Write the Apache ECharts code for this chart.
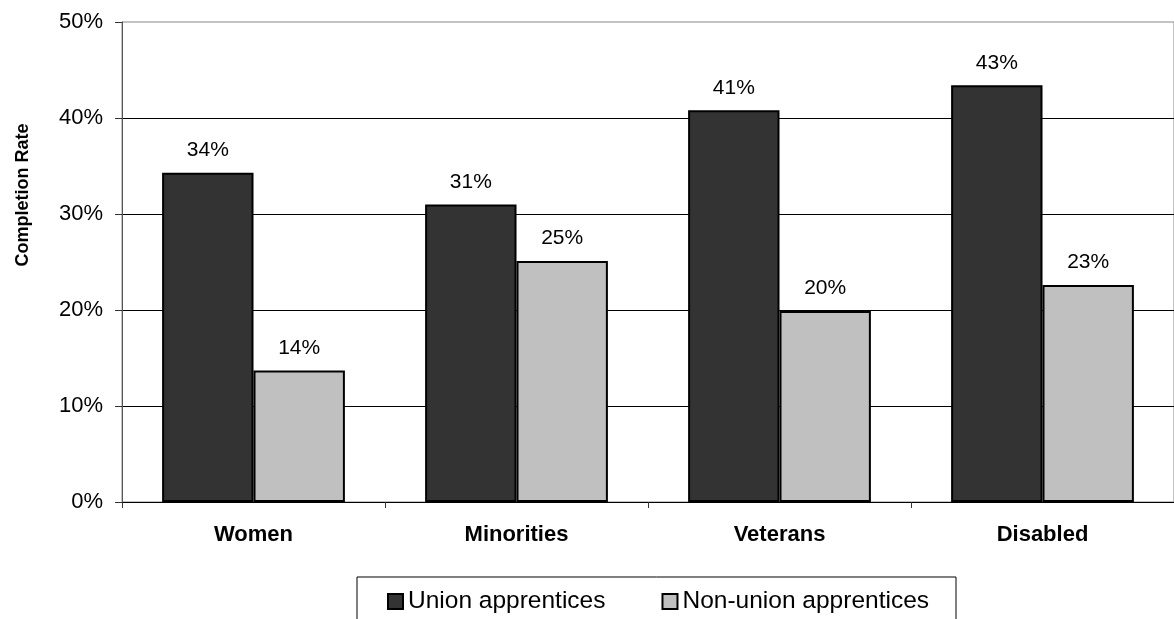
<!DOCTYPE html>
<html>
<head>
<meta charset="utf-8">
<script src="https://cdn.jsdelivr.net/npm/echarts@6/dist/echarts.min.js"></script>
<style>
html,body{margin:0;padding:0;background:#fff;}
#chart{width:1174px;height:619px;}
</style>
</head>
<body>
<div id="chart"></div>
<script>
var categories = ['Women', 'Minorities', 'Veterans', 'Disabled'];
var seriesNames = ['Union apprentices', 'Non-union apprentices'];
var unionValues = [34.3, 31.0, 40.8, 43.4];
var nonUnionValues = [13.7, 25.1, 19.9, 22.6];
var yTicks = [0, 10, 20, 30, 40, 50];
var yAxisTitle = 'Completion Rate';

var FONT = 'Liberation Sans, Arial, sans-serif';
var chart = echarts.init(document.getElementById('chart'), null, {renderer: 'canvas'});

function barSeries(name, data, color) {
  return {
    name: name,
    type: 'bar',
    data: data,
    barGap: '0%',
    barCategoryGap: '30.5%',
    itemStyle: {color: color, borderColor: '#000', borderWidth: 2},
    label: {
      show: true,
      position: 'top',
      distance: 12,
      color: '#000',
      fontFamily: FONT,
      fontSize: 21,
      formatter: function (p) { return Math.round(p.value) + '%'; }
    },
    emphasis: {disabled: true}
  };
}

chart.setOption({
  animation: false,
  backgroundColor: '#fff',
  grid: {
    left: 122, top: 22, bottom: 117, width: 1060,
    show: true, borderColor: '#888', borderWidth: 1, backgroundColor: 'transparent'
  },
  legend: {
    data: seriesNames,
    left: 357,
    top: 577,
    padding: [12, 27, 40, 30],
    itemGap: 56,
    itemWidth: 15,
    itemHeight: 15,
    icon: 'rect',
    borderColor: '#000',
    borderWidth: 1,
    textStyle: {fontFamily: FONT, fontSize: 24.5, color: '#000'}
  },
  graphic: [{
    type: 'text',
    x: 23, y: 195,
    rotation: Math.PI / 2,
    style: {
      text: yAxisTitle,
      font: 'bold 18px ' + FONT,
      fill: '#000',
      textAlign: 'center',
      textVerticalAlign: 'middle'
    }
  }],
  xAxis: {
    type: 'category',
    data: categories,
    axisLine: {lineStyle: {color: '#000', width: 1}},
    axisTick: {show: true, length: 6, lineStyle: {color: '#333'}},
    axisLabel: {fontFamily: FONT, fontSize: 22, fontWeight: 'bold', color: '#000', margin: 22}
  },
  yAxis: {
    type: 'value',
    min: yTicks[0],
    max: yTicks[yTicks.length - 1],
    interval: 10,
    axisLine: {show: true, lineStyle: {color: '#555', width: 1}},
    axisTick: {show: true, length: 7, lineStyle: {color: '#333'}},
    axisLabel: {fontFamily: FONT, fontSize: 22, color: '#000', margin: 19, formatter: '{value}%'},
    splitLine: {show: true, showMaxLine: false, lineStyle: {color: '#000', width: 1}}
  },
  series: [
    barSeries(seriesNames[0], unionValues, '#333333'),
    barSeries(seriesNames[1], nonUnionValues, '#c0c0c0')
  ]
});
</script>
</body>
</html>
